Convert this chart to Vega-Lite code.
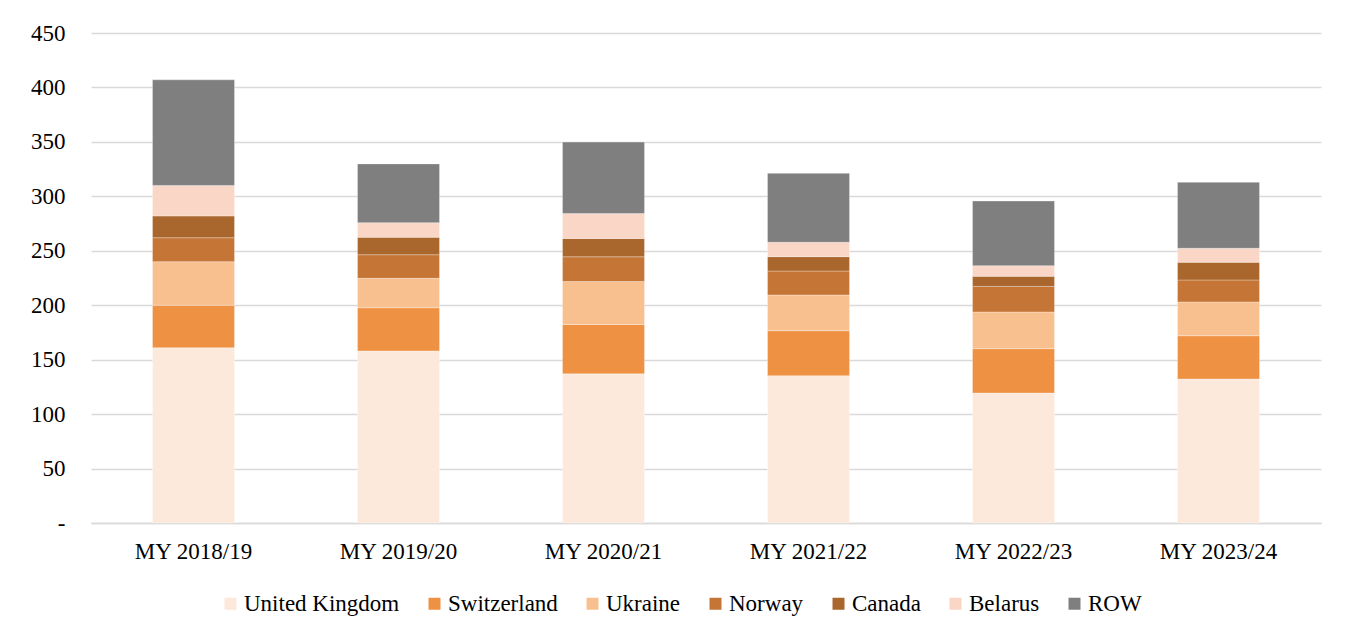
{
  "$schema": "https://vega.github.io/schema/vega-lite/v6.json",
  "width": 1230,
  "height": 490,
  "autosize": {"type": "none"},
  "padding": {"left": 91, "top": 33, "right": 26, "bottom": 112},
  "background": "white",
  "config": {
    "font": "Liberation Serif",
    "view": {"stroke": null},
    "axis": {"labelFont": "Liberation Serif", "labelColor": "#000000", "labelFontSize": 23},
    "legend": {"labelFont": "Liberation Serif", "labelColor": "#000000", "labelFontSize": 23}
  },
  "data": {
    "values": [
      {"year": "MY 2018/19", "country": "United Kingdom", "value": 161},
      {"year": "MY 2018/19", "country": "Switzerland", "value": 39},
      {"year": "MY 2018/19", "country": "Ukraine", "value": 40},
      {"year": "MY 2018/19", "country": "Norway", "value": 22},
      {"year": "MY 2018/19", "country": "Canada", "value": 20},
      {"year": "MY 2018/19", "country": "Belarus", "value": 28},
      {"year": "MY 2018/19", "country": "ROW", "value": 97},
      {"year": "MY 2019/20", "country": "United Kingdom", "value": 158},
      {"year": "MY 2019/20", "country": "Switzerland", "value": 39.7},
      {"year": "MY 2019/20", "country": "Ukraine", "value": 27},
      {"year": "MY 2019/20", "country": "Norway", "value": 21.7},
      {"year": "MY 2019/20", "country": "Canada", "value": 16},
      {"year": "MY 2019/20", "country": "Belarus", "value": 13.4},
      {"year": "MY 2019/20", "country": "ROW", "value": 54},
      {"year": "MY 2020/21", "country": "United Kingdom", "value": 137},
      {"year": "MY 2020/21", "country": "Switzerland", "value": 45.3},
      {"year": "MY 2020/21", "country": "Ukraine", "value": 39.5},
      {"year": "MY 2020/21", "country": "Norway", "value": 22.7},
      {"year": "MY 2020/21", "country": "Canada", "value": 16.8},
      {"year": "MY 2020/21", "country": "Belarus", "value": 22.9},
      {"year": "MY 2020/21", "country": "ROW", "value": 65.6},
      {"year": "MY 2021/22", "country": "United Kingdom", "value": 135.3},
      {"year": "MY 2021/22", "country": "Switzerland", "value": 41.3},
      {"year": "MY 2021/22", "country": "Ukraine", "value": 32.8},
      {"year": "MY 2021/22", "country": "Norway", "value": 22},
      {"year": "MY 2021/22", "country": "Canada", "value": 13.2},
      {"year": "MY 2021/22", "country": "Belarus", "value": 13.2},
      {"year": "MY 2021/22", "country": "ROW", "value": 63.3},
      {"year": "MY 2022/23", "country": "United Kingdom", "value": 119.4},
      {"year": "MY 2022/23", "country": "Switzerland", "value": 40.7},
      {"year": "MY 2022/23", "country": "Ukraine", "value": 33.7},
      {"year": "MY 2022/23", "country": "Norway", "value": 23.5},
      {"year": "MY 2022/23", "country": "Canada", "value": 9.2},
      {"year": "MY 2022/23", "country": "Belarus", "value": 9.8},
      {"year": "MY 2022/23", "country": "ROW", "value": 59.4},
      {"year": "MY 2023/24", "country": "United Kingdom", "value": 132.2},
      {"year": "MY 2023/24", "country": "Switzerland", "value": 39.8},
      {"year": "MY 2023/24", "country": "Ukraine", "value": 31},
      {"year": "MY 2023/24", "country": "Norway", "value": 20.2},
      {"year": "MY 2023/24", "country": "Canada", "value": 16.2},
      {"year": "MY 2023/24", "country": "Belarus", "value": 12.9},
      {"year": "MY 2023/24", "country": "ROW", "value": 60.6}
    ]
  },
  "transform": [
    {"calculate": "indexof(['United Kingdom', 'Switzerland', 'Ukraine', 'Norway', 'Canada', 'Belarus', 'ROW'], datum.country)", "as": "stackOrder"}
  ],
  "mark": {"type": "bar", "stroke": "#ffffff", "strokeWidth": 0.6, "strokeOpacity": 0.5},
  "encoding": {
    "x": {
      "field": "year",
      "type": "nominal",
      "title": null,
      "scale": {"paddingInner": 0.6, "paddingOuter": 0.3},
      "axis": {"labelAngle": 0, "domain": true, "domainColor": "#d9d9d9", "domainWidth": 1.5, "ticks": false, "labelPadding": 17}
    },
    "y": {
      "field": "value",
      "type": "quantitative",
      "stack": "zero",
      "title": null,
      "scale": {"domain": [0, 450], "nice": false},
      "axis": {
        "values": [0, 50, 100, 150, 200, 250, 300, 350, 400, 450],
        "labelExpr": "datum.value == 0 ? '-' : datum.label",
        "domain": false,
        "ticks": false,
        "labelPadding": 26,
        "grid": true,
        "gridColor": "#d9d9d9",
        "gridWidth": 1.5
      }
    },
    "order": {"field": "stackOrder", "type": "quantitative", "sort": "ascending"},
    "color": {
      "field": "country",
      "type": "nominal",
      "sort": ["United Kingdom", "Switzerland", "Ukraine", "Norway", "Canada", "Belarus", "ROW"],
      "scale": {
        "domain": ["United Kingdom", "Switzerland", "Ukraine", "Norway", "Canada", "Belarus", "ROW"],
        "range": ["#fde9db", "#ee9143", "#f9c08f", "#c57535", "#a9662d", "#fad6c7", "#7f7f7f"]
      },
      "legend": {
        "title": null,
        "orient": "none",
        "direction": "horizontal",
        "legendX": 128,
        "legendY": 559,
        "symbolType": "square",
        "symbolSize": 144,
        "symbolStrokeWidth": 0,
        "labelOffset": 2,
        "columnPadding": 23,
        "columns": 7
      }
    }
  }
}
